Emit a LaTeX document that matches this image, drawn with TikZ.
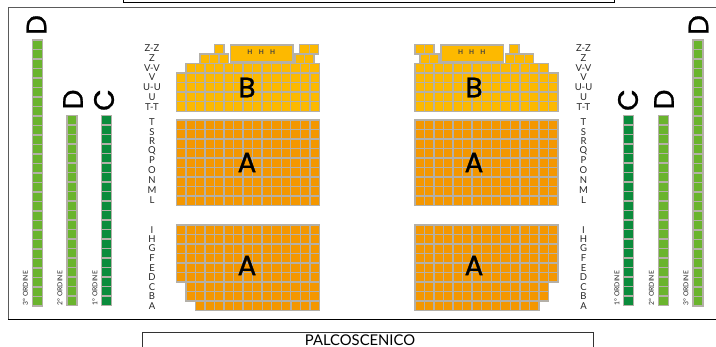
\documentclass[tikz,border=0pt]{standalone}
\usepackage{fontspec}
\setmainfont{Lato}
\newfontfamily\bigfont[RawFeature={embolden=1}]{Poppins}
\definecolor{seatA}{HTML}{F49700}
\definecolor{seatB}{HTML}{FDB900}
\definecolor{seatG}{HTML}{6AB42D}
\definecolor{seatC}{HTML}{0B8C3C}
\definecolor{seatEdge}{HTML}{B4B0A8}
\definecolor{frameGrey}{HTML}{5A5A5A}
\newcommand{\fillbox}[5]{\fill[#5] (#1,#2) rectangle (#3,#4);}
\newcommand{\edgebox}[5]{\draw[seat] (#1,#2) rectangle (#3,#4);}
\newcommand{\seatrow}[4]{% x0, ytop, count, colour
  \foreach \ci in {1,...,#3}{
    \pgfmathsetmacro\xa{#1+(\ci-1)*9.53}
    \pgfmathsetmacro\xb{#1+\ci*9.53}
    \pgfmathsetmacro\ya{#2}
    \pgfmathsetmacro\yb{#2+9.53}
    \seatbox{\xa}{\ya}{\xb}{\yb}{#4}
  }}
\newcommand{\seatcol}[5]{% xleft, width, ytop, count, colour
  \foreach \ci in {1,...,#4}{
    \pgfmathsetmacro\xa{#1}
    \pgfmathsetmacro\xb{#1+#2}
    \pgfmathsetmacro\ya{#3+(\ci-1)*9.5}
    \pgfmathsetmacro\yb{#3+\ci*9.5}
    \seatbox{\xa}{\ya}{\xb}{\yb}{#5}
  }}
\newcommand{\allseats}{%
\seatcol{32.5}{10}{40}{28}{seatG}
\seatcol{67}{10}{115.7}{20}{seatG}
\seatcol{101.5}{10}{115.7}{20}{seatC}
\seatcol{623.5}{10}{115.7}{20}{seatC}
\seatcol{658.2}{10}{115.7}{20}{seatG}
\seatcol{692.8}{10}{40}{28}{seatG}
\seatrow{214.4}{44.5}{1}{seatB}
\seatrow{299.7}{44.5}{2}{seatB}
\seatrow{200}{54}{3}{seatB}
\seatrow{295}{54}{2}{seatB}
\seatrow{185.9}{63.5}{14}{seatB}
\foreach \r in {1,2,3,4}{\seatrow{176.4}{63.5+\r*9.55}{15}{seatB}}
\seatbox{230.5}{45}{293}{62}{seatB}
\seatrow{415}{44.5}{2}{seatB}
\seatrow{509.5}{44.5}{1}{seatB}
\seatrow{420}{54}{2}{seatB}
\seatrow{505.2}{54}{3}{seatB}
\seatrow{415}{63.5}{14}{seatB}
\foreach \r in {1,2,3,4}{\seatrow{415}{63.5+\r*9.55}{15}{seatB}}
\seatbox{441}{45}{503.3}{62}{seatB}
\foreach \r in {0,...,8}{
  \seatrow{176.4}{120+\r*9.52}{15}{seatA}
  \seatrow{415}{120+\r*9.52}{15}{seatA}
}
\foreach \r in {0,...,5}{
  \seatrow{176.4}{225+\r*9.52}{15}{seatA}
  \seatrow{415}{225+\r*9.52}{15}{seatA}
}
\foreach \r in {6,7}{
  \seatrow{185.9}{225+\r*9.52}{14}{seatA}
  \seatrow{415}{225+\r*9.52}{14}{seatA}
}
\seatrow{195.5}{301.2}{13}{seatA}
\seatrow{415}{301.2}{13}{seatA}
}
\tikzset{
  seat/.style={draw=seatEdge,line width=1.4pt},
  rowlabel/.style={inner sep=0pt,font=\fontsize{9.5}{9.5}\selectfont,text=black!85},
  bigletter/.style={inner sep=0pt,font=\bigfont\fontsize{28}{28}\selectfont},
  sideletter/.style={bigletter,rotate=90},
  ordlabel/.style={inner sep=0pt,anchor=west,rotate=90,font=\fontsize{6.8}{6.8}\selectfont,text=black!85},
  hlabel/.style={inner sep=0pt,font=\bfseries\fontsize{6.5}{6.5}\selectfont,text=black!75},
  stagebox/.style={draw=black!80,line width=0.9pt},
}
\begin{document}
\begin{tikzpicture}[x=1pt,y=-1pt]
\useasboundingbox (0,0) rectangle (716,347);
% frames
\draw[frameGrey,line width=1pt] (716,7.5) -- (8,7.5) -- (8,320);
\draw[black,line width=1pt] (8,320) -- (716,320);
\draw[black,line width=1pt] (123,-2) -- (123,2.5) -- (614,2.5) -- (614,-2);
\draw[stagebox] (142.5,348) -- (142.5,332.5) -- (593,332.5) -- (593,348);
\node[inner sep=0pt,font=\fontsize{14.8}{14.8}\selectfont] (stage) at (360,340.5) {PALCOSCENICO};
% seats: all fills first, then all edges
\let\seatbox\fillbox
\allseats
\let\seatbox\edgebox
\allseats
% H labels
\node[hlabel] (hl1) at (250,52.5) {H};
\node[hlabel] (hl2) at (261.5,52.5) {H};
\node[hlabel] (hl3) at (272.7,52.5) {H};
\node[hlabel] (hr1) at (460.7,52.5) {H};
\node[hlabel] (hr2) at (471.7,52.5) {H};
\node[hlabel] (hr3) at (483,52.5) {H};
% big letters
\node[bigletter] (bl) at (247,87.5) {B};
\node[bigletter] (al1) at (247,162.5) {A};
\node[bigletter] (al2) at (247,265.5) {A};
\node[bigletter] (br) at (474,87.5) {B};
\node[bigletter] (ar1) at (474,162.5) {A};
\node[bigletter] (ar2) at (474,265.5) {A};
% side letters
\node[sideletter] (d3l) at (36.5,25) {D};
\node[sideletter] (d2l) at (73,99.5) {D};
\node[sideletter] (c1l) at (104,100) {C};
\node[sideletter] (c1r) at (628,100) {C};
\node[sideletter] (d2r) at (664,99.5) {D};
\node[sideletter] (d3r) at (698.5,25) {D};
% ordine labels
\node[ordlabel] (o3l) at (25.5,305.5) {3° ORDINE};
\node[ordlabel] (o2l) at (60,305.5) {2° ORDINE};
\node[ordlabel] (o1l) at (95,305.5) {1° ORDINE};
\node[ordlabel] (o1r) at (617,305.5) {1° ORDINE};
\node[ordlabel] (o2r) at (651.5,305.5) {2° ORDINE};
\node[ordlabel] (o3r) at (686,305.5) {3° ORDINE};
% row labels
\foreach \t/\y/\n in {Z-Z/48.3/a,Z/58.3/b,V-V/68/c,V/77.3/d,U-U/87/e,U/97/f,T-T/107/g,T/122/h,S/132/i,R/141.5/j,Q/151/k,P/160.5/l,O/170.5/m,N/180.5/n,M/190.5/o,L/200.5/p,I/230/q,H/239.5/r,G/248.5/s,F/258/t,E/267.7/u,D/277.5/v,C/287/w,B/296.5/x,A/306/y}{
  \node[rowlabel] (ll\n) at (152,\y) {\t};
  \node[rowlabel] (rl\n) at (583.5,\y) {\t};
}
\end{tikzpicture}
\end{document}
